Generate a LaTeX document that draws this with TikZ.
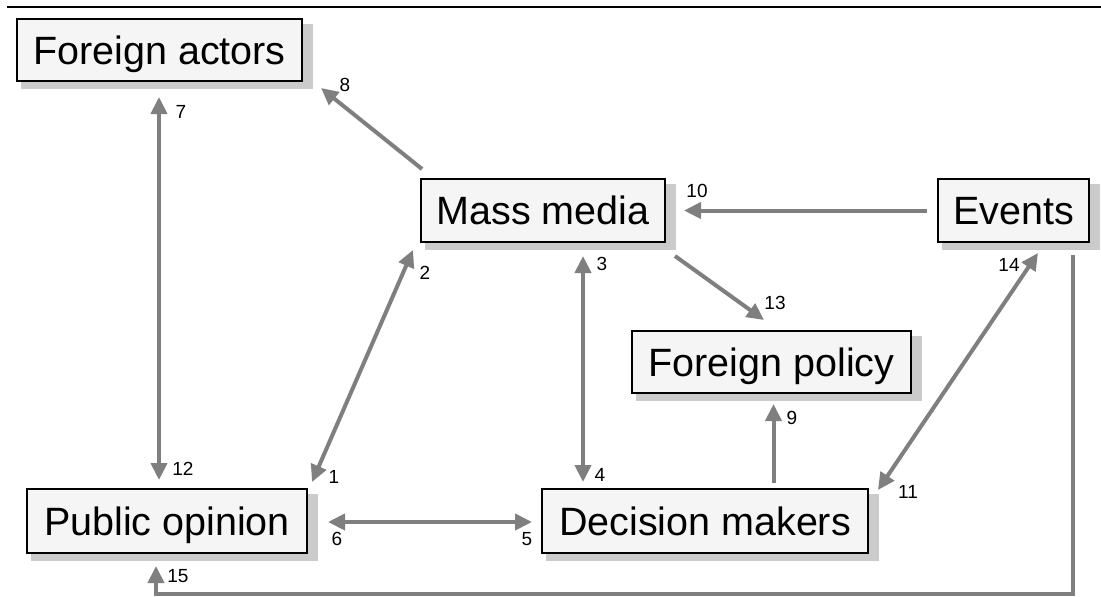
\documentclass[tikz,border=0pt]{standalone}
\usepackage{fontspec}
\setmainfont{Liberation Sans}
\usetikzlibrary{arrows.meta,backgrounds,calc}
\definecolor{arrowgray}{HTML}{7F7F7F}
\definecolor{boxfill}{HTML}{F5F5F5}
\definecolor{shadowgray}{HTML}{CBCBCB}
\begin{document}
\begin{tikzpicture}[x=1pt,y=-1pt,
  box/.style={draw=black,line width=2pt,fill=boxfill,inner sep=0pt,outer sep=0pt,
    text height=28.3pt,text depth=0pt,font=\fontsize{39.5}{47}\selectfont},
  arr/.style={draw=arrowgray,line width=4pt,-{Triangle[length=17pt,width=16pt]}},
  darr/.style={draw=arrowgray,line width=4pt,{Triangle[length=17pt,width=16pt]}-{Triangle[length=17pt,width=16pt]}},
  num/.style={font=\fontsize{19}{22}\selectfont,inner sep=0pt,text height=13.6pt,text depth=0pt}]
\useasboundingbox (0,0) rectangle (1101,597);

% top rule
\coordinate (ruleL) at (7,7);
\coordinate (ruleR) at (1101,7);
\draw[line width=2.5pt] (ruleL) -- (ruleR);

% boxes
\node[box,minimum width=285pt,minimum height=62pt] (fa) at (159.5,50) {Foreign actors};
\node[box,minimum width=244pt,minimum height=63pt] (mm) at (543,210.5) {Mass media};
\node[box,minimum width=151pt,minimum height=63pt] (ev) at (1013.5,210.5) {Events};
\node[box,minimum width=279pt,minimum height=62pt] (fp) at (771.5,362) {Foreign policy};
\node[box,minimum width=280pt,minimum height=64pt] (po) at (167,521) {Public opinion};
\node[box,minimum width=326pt,minimum height=64pt] (dm) at (705,521) {Decision makers};

% shadows and background
\begin{scope}[on background layer]
  \fill[white] (0,0) rectangle (1101,597);
  \foreach \n in {fa,mm,ev,fp,po,dm}
    \fill[shadowgray] ([shift={(4,5)}]\n.north west) rectangle ([shift={(11,8)}]\n.south east);
\end{scope}

% connectors
\draw[darr] ([shift={(-8,-9)}]po.north) -- ([shift={(-0.5,16)}]fa.south);
\draw[arr] ([shift={(1,-10)}]mm.north west) -- ([shift={(19,7)}]fa.south east);
\draw[darr] ([shift={(5,-7)}]po.north east) -- ([shift={(-8,8)}]mm.south west);
\draw[darr] ([shift={(41,-7)}]dm.north west) -- ([shift={(40,14)}]mm.south);
\draw[arr] ([shift={(-11,0)}]ev.west) -- ([shift={(19,0)}]mm.east);
\draw[arr] ([shift={(10,14)}]mm.south east) -- ([shift={(-7.5,-11)}]fp.north);
\draw[arr] ([shift={(68.5,-6)}]dm.north) -- ([shift={(2,11)}]fp.south);
\draw[darr] ([shift={(10,1)}]dm.north east) -- ([shift={(24.5,11)}]ev.south);
\draw[darr] ([shift={(21,1)}]po.east) -- ([shift={(-10,1)}]dm.west);
\draw[arr] ([shift={(-16,13)}]ev.south east) -- ++(0,339) -| ([shift={(-11,13)}]po.south);

% labels
\node[num] (l1) at (334,477) {1};
\node[num] (l2) at (425,273) {2};
\node[num] (l3) at (602,264) {3};
\node[num] (l4) at (600,475) {4};
\node[num] (l5) at (527,539) {5};
\node[num] (l6) at (337,539) {6};
\node[num] (l7) at (181,112) {7};
\node[num] (l8) at (345,85) {8};
\node[num] (l9) at (792,418) {9};
\node[num] (l10) at (697,191) {10};
\node[num] (l11) at (908,492) {11};
\node[num] (l12) at (183,469) {12};
\node[num] (l13) at (775,303) {13};
\node[num] (l14) at (1009,265) {14};
\node[num] (l15) at (178,576) {15};
\end{tikzpicture}
\end{document}
